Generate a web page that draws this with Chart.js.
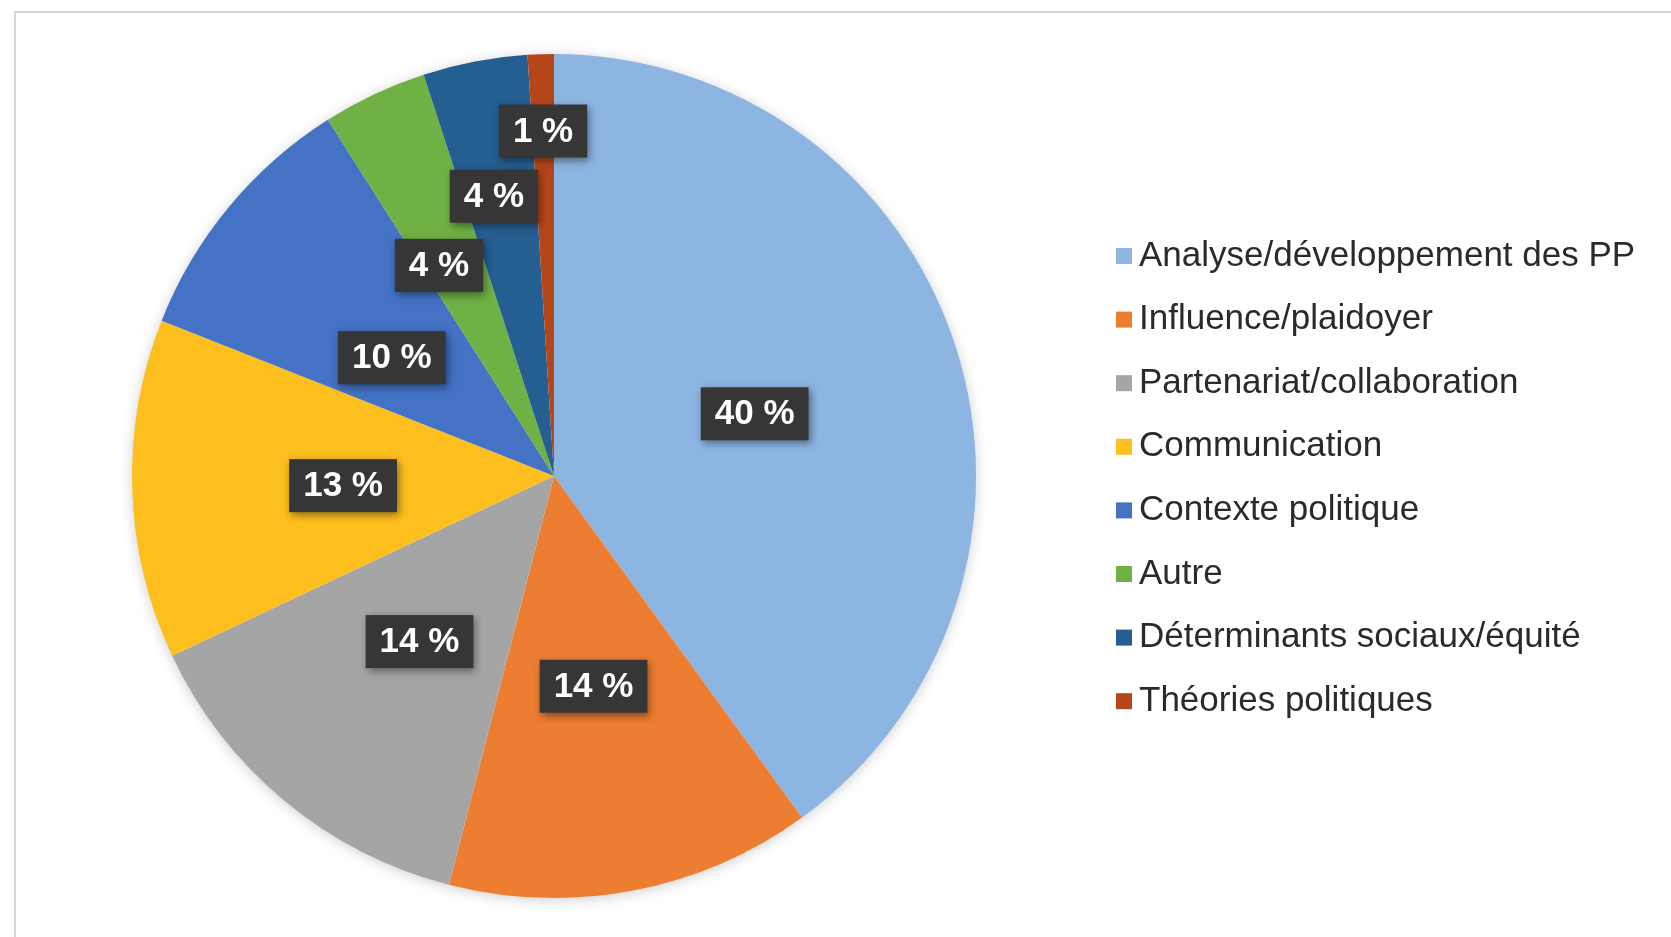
<!DOCTYPE html>
<html>
<head>
<meta charset="utf-8">
<script src="https://cdn.jsdelivr.net/npm/chart.js@4/dist/chart.umd.min.js"></script>
<style>
  html, body { margin: 0; padding: 0; background: #ffffff; }
  #wrap { position: relative; width: 1671px; height: 937px; overflow: hidden; background: #fff; }
  #frame { position: absolute; left: 14px; top: 11px; width: 1680px; height: 950px;
           border-top: 2px solid #d6d6d6; border-left: 2px solid #d6d6d6; box-sizing: border-box; }
  canvas { position: absolute; left: 0; top: 0; }
</style>
</head>
<body>
<div id="wrap">
  <div id="frame"></div>
  <canvas id="c" width="1671" height="937"></canvas>
</div>
<script>
// ---- data ----
const categories = [
  "Analyse/développement des PP",
  "Influence/plaidoyer",
  "Partenariat/collaboration",
  "Communication",
  "Contexte politique",
  "Autre",
  "Déterminants sociaux/équité",
  "Théories politiques"
];
const values = [40, 14, 14, 13, 10, 4, 4, 1];
const valueLabels = ["40 %", "14 %", "14 %", "13 %", "10 %", "4 %", "4 %", "1 %"];

// ---- styles ----
const colors = ["#8db5e1", "#ed7d31", "#a5a5a5", "#fdbf1d", "#4472c4", "#6fb144", "#255e91", "#b5461a"];
const labelRadius = [0.5, 0.5, 0.5, 0.5, 0.48, 0.575, 0.685, 0.825];
const labelAngleShiftDeg = [0, 0, 0, 0, -2.8, -3.1, -1.2, 0];
const FONT = '"Liberation Sans", Arial, Helvetica, sans-serif';

const pieShadow = {
  id: 'pieShadow',
  beforeDatasetsDraw(chart) {
    const arc = chart.getDatasetMeta(0).data[0];
    if (!arc) return;
    const ctx = chart.ctx;
    ctx.save();
    ctx.shadowColor = 'rgba(0,0,0,0.22)';
    ctx.shadowBlur = 14;
    ctx.shadowOffsetX = 0;
    ctx.shadowOffsetY = 2;
    ctx.fillStyle = '#ffffff';
    ctx.beginPath();
    ctx.arc(arc.x, arc.y, arc.outerRadius - 1, 0, Math.PI * 2);
    ctx.fill();
    ctx.restore();
  }
};

const boxLabels = {
  id: 'boxLabels',
  afterDatasetsDraw(chart) {
    const ctx = chart.ctx;
    const meta = chart.getDatasetMeta(0);
    ctx.save();
    ctx.font = 'bold 35px ' + FONT;
    ctx.textAlign = 'center';
    ctx.textBaseline = 'middle';
    meta.data.forEach((arc, i) => {
      const p = arc.getProps(['x', 'y', 'startAngle', 'endAngle', 'outerRadius'], true);
      const mid = (p.startAngle + p.endAngle) / 2 + labelAngleShiftDeg[i] * Math.PI / 180;
      const r = p.outerRadius * labelRadius[i];
      const cx = p.x + Math.cos(mid) * r;
      const cy = p.y + Math.sin(mid) * r + 3;
      const txt = valueLabels[i];
      const w = ctx.measureText(txt).width + 28;
      const h = 53;
      ctx.save();
      ctx.shadowColor = 'rgba(0,0,0,0.45)';
      ctx.shadowBlur = 8;
      ctx.shadowOffsetX = 2;
      ctx.shadowOffsetY = 3;
      ctx.fillStyle = '#363636';
      ctx.fillRect(cx - w / 2, cy - h / 2, w, h);
      ctx.restore();
      ctx.fillStyle = '#ffffff';
      ctx.fillText(txt, cx, cy + 1);
    });
    ctx.restore();
  }
};

const sideLegend = {
  id: 'sideLegend',
  afterDraw(chart) {
    const ctx = chart.ctx;
    const ds = chart.data.datasets[0];
    ctx.save();
    ctx.font = '35px ' + FONT;
    ctx.textAlign = 'left';
    ctx.textBaseline = 'middle';
    chart.data.labels.forEach((lab, i) => {
      const y = 255 + i * 63.6;
      ctx.fillStyle = ds.backgroundColor[i];
      ctx.fillRect(1116, y - 7, 16, 16);
      ctx.fillStyle = '#2a2a2a';
      ctx.fillText(lab, 1139, y + 1);
    });
    ctx.restore();
  }
};

new Chart(document.getElementById('c'), {
  type: 'pie',
  data: {
    labels: categories,
    datasets: [{
      data: values,
      backgroundColor: colors,
      borderWidth: 0,
      hoverOffset: 0,
      offset: 0
    }]
  },
  options: {
    responsive: false,
    animation: false,
    layout: { padding: { top: 54, bottom: 39, left: 132, right: 695 } },
    plugins: {
      legend: { display: false },
      tooltip: { enabled: false }
    }
  },
  plugins: [pieShadow, boxLabels, sideLegend]
});
</script>
</body>
</html>
